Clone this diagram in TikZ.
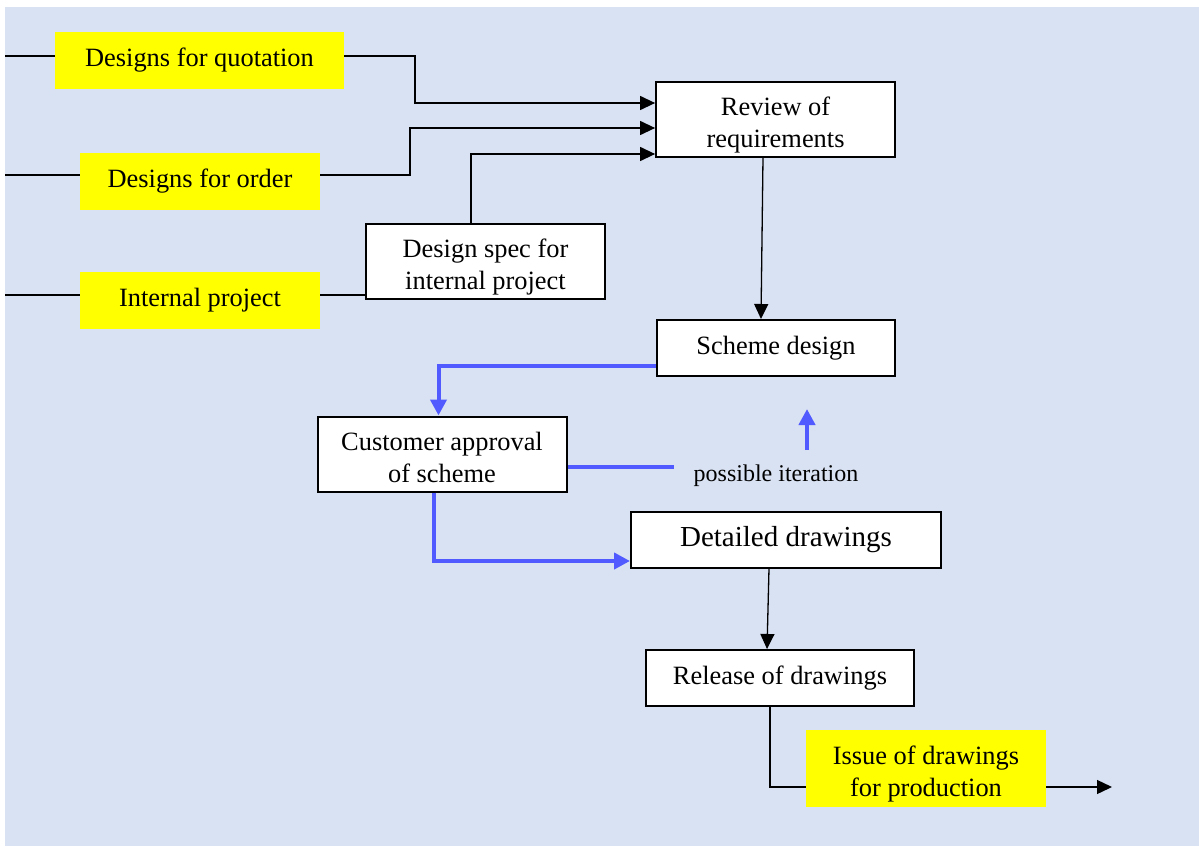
\documentclass[tikz,border=0pt]{standalone}
\usepackage{fontspec}
\setmainfont{Liberation Serif}
\usetikzlibrary{arrows.meta}

\definecolor{paleblue}{RGB}{217,226,243}
\definecolor{loopblue}{RGB}{80,90,255}
\definecolor{inputyellow}{RGB}{255,255,0}

\newcommand{\boxlines}[1]{\raisebox{-6pt}[\height][\depth]{\begin{tabular}{@{}c@{}}#1\end{tabular}}}

\tikzset{
  stagebox/.style = {draw, line width=2pt, fill=white, align=center, inner sep=0pt,
    font=\fontsize{26.4}{32}\selectfont},
  inputbox/.style = {fill=inputyellow, align=center, inner sep=0pt,
    font=\fontsize{26.4}{32}\selectfont},
  feed/.style = {line width=1.3pt},
  flow/.style = {feed, -{Triangle[length=15pt,width=14pt]}},
  iterate/.style = {loopblue, line width=4pt, -{Triangle[length=16pt,width=16pt]}},
}

\begin{document}
\begin{tikzpicture}[x=1pt, y=-1pt]
    \useasboundingbox (0,0) rectangle (1199,846);
    \fill[paleblue] (5,7) rectangle (1199,846);

    \node[inputbox, minimum width=289pt, minimum height=57pt] (quote) at (199.5,60.5) {Designs for quotation};
    \node[inputbox, minimum width=240pt, minimum height=57pt] (order) at (200,181) {Designs for order};
    \node[inputbox, minimum width=240pt, minimum height=57pt] (internal) at (200,300.5) {Internal project};
    \node[stagebox, minimum width=239pt, minimum height=75pt] (spec) at (485.5,261.5) {\boxlines{Design spec for\\ internal project}};
    \node[stagebox, minimum width=239pt, minimum height=75pt] (review) at (775.6,119) {\boxlines{Review of\\ requirements}};
    \node[stagebox, minimum width=238pt, minimum height=56pt] (scheme) at (776,348) {Scheme design};
    \node[stagebox, minimum width=249pt, minimum height=75pt] (approval) at (442,454) {\boxlines{Customer approval\\ of scheme}};
    \node[stagebox, minimum width=310pt, minimum height=56pt, font=\fontsize{29}{33}\selectfont] (detail) at (786,539.5) {Detailed drawings};
    \node[stagebox, minimum width=268pt, minimum height=56pt] (release) at (780,678) {Release of drawings};
    \node[inputbox, minimum width=240pt, minimum height=77pt] (issue) at (926,768.5) {\boxlines{Issue of drawings\\ for production}};
    \node[font=\fontsize{24}{28}\selectfont] (iter) at (776,476) {possible iteration};

    \coordinate (in1) at (5,56);
    \coordinate (in2) at (5,175);
    \coordinate (in3) at (5,295);
    \coordinate (out) at (1112,787);
    \coordinate (loopend) at (674,467);
    \coordinate (loopfoot) at (807,450);
    \coordinate (looptip) at (807,409);

    \draw[feed] (in1) -- (quote.west |- in1);
    \draw[feed] (in2) -- (order.west |- in2);
    \draw[feed] (in3) -- (internal.west |- in3);
    \draw[flow] (quote.east |- in1) -| (415,103) -- (review.west |- 0,103);
    \draw[flow] (order.east |- in2) -| (410,128) -- (review.west |- 0,128);
    \draw[feed] (internal.east |- in3) -- (spec.west |- in3);
    \draw[flow] (spec.north -| 471,0) |- (review.west |- 0,154);
    \draw[flow] ([xshift=-12.6pt]review.south) -- ([xshift=-15pt]scheme.north);
    \draw[flow] ([xshift=-17pt]detail.south) -- ([xshift=-13pt]release.north);
    \draw[feed] ([xshift=-10pt]release.south) |- (issue.west |- out);
    \draw[flow] (issue.east |- out) -- (out);

    \draw[iterate] (scheme.west |- 0,366) -| ([xshift=-3.5pt]approval.north);
    \draw[iterate] ([xshift=-8pt]approval.south) |- (detail.west |- 0,561);
    \draw[iterate, -] (approval.east |- loopend) -- (loopend);
    \draw[iterate] (loopfoot) -- (looptip);
\end{tikzpicture}
\end{document}
